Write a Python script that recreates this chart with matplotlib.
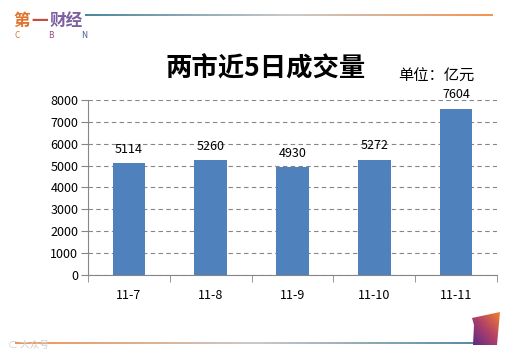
import numpy as np
import matplotlib.pyplot as plt
from matplotlib.collections import LineCollection
from matplotlib.colors import LinearSegmentedColormap
from matplotlib.patches import Polygon

plt.rcParams['font.family'] = ['Noto Sans CJK SC', 'DejaVu Sans']

dates = ["11-7", "11-8", "11-9", "11-10", "11-11"]
volumes = [5114, 5260, 4930, 5272, 7604]
yticks = [0, 1000, 2000, 3000, 4000, 5000, 6000, 7000, 8000]

bar_color = "#4f81bd"
grey = "#868686"

fig = plt.figure(figsize=(5.1, 3.53), dpi=100)

# decorations layer (pixel coords)
deco = fig.add_axes([0, 0, 1, 1])
deco.set_xlim(0, 510)
deco.set_ylim(353, 0)
deco.axis("off")

def grad_line(x0, x1, y, cmap, lw=1.2):
    xs = np.linspace(x0, x1, 200)
    pts = np.array([xs, np.full_like(xs, y)]).T.reshape(-1, 1, 2)
    segs = np.concatenate([pts[:-1], pts[1:]], axis=1)
    lc = LineCollection(segs, cmap=cmap, linewidth=lw)
    lc.set_array(np.linspace(0, 1, len(segs)))
    deco.add_collection(lc)

top_cmap = LinearSegmentedColormap.from_list("top", ["#2a6e8c", "#bfbfbf", "#f08030"])
bot_cmap = LinearSegmentedColormap.from_list("bot", ["#f08030", "#bfbfbf", "#2a6e8c"])
grad_line(85, 493, 15, top_cmap)
grad_line(15, 497, 343, bot_cmap)

# logo
deco.text(13, 21, "第", color="#e0742c", fontsize=12, fontweight="bold", va="center", ha="left")
deco.text(31, 21, "一", color="#c0503c", fontsize=12, fontweight="bold", va="center", ha="left")
deco.text(50, 21, "财经", color="#7b5f9e", fontsize=12, fontweight="bold", va="center", ha="left")
for xc, ch, c in [(17, "C", "#e0742c"), (51, "B", "#9a4f7e"), (84, "N", "#3a5f8e")]:
    deco.text(xc, 35, ch, color=c, fontsize=6, va="center", ha="center")

# bottom-right emblem
poly = Polygon([[472, 318], [500, 312], [497, 345], [473, 345], [474, 325]],
               closed=True, facecolor="none", edgecolor="none")
deco.add_patch(poly)
gx = np.linspace(0, 1, 50)
grad = np.outer(np.linspace(1, 0, 50), np.ones(50)) * 0.5 + np.outer(np.ones(50), gx) * 0.5
emb_cmap = LinearSegmentedColormap.from_list("emb", ["#5b2a86", "#b0406a", "#f0802a"])
im = deco.imshow(grad, extent=(472, 500, 345, 312), cmap=emb_cmap, aspect="auto", zorder=2)
im.set_clip_path(poly)
deco.set_xlim(0, 510)
deco.set_ylim(353, 0)

deco.text(8, 345, "⊂ 大众号", color="#d0d0d0", fontsize=7, va="center", ha="left")

# titles
fig.text(0.52, 0.805, "两市近5日成交量", fontsize=19, fontweight="bold", ha="center", va="center")
fig.text(0.855, 0.785, "单位：亿元", fontsize=11, ha="center", va="center")

# chart
ax = fig.add_axes([0.1725, 0.221, 0.802, 0.496])
x = np.arange(len(dates))
bars = ax.bar(x, volumes, width=0.4, color=bar_color, zorder=3)
for xi, v in zip(x, volumes):
    ax.text(xi, v + 330, str(v), ha="center", va="bottom", fontsize=9)

ax.set_xlim(-0.5, len(dates) - 0.5)
ax.set_ylim(0, 8000)
ax.set_yticks(yticks)
ax.set_yticklabels([str(t) for t in yticks], fontsize=9)
ax.yaxis.grid(True, linestyle=(0, (4, 3)), color=grey, linewidth=0.8, zorder=0)
ax.set_xticks(x)
ax.set_xticklabels(dates, fontsize=9)
ax.tick_params(axis="x", length=0, pad=10)
ax.set_xticks(np.arange(-0.5, len(dates)), minor=True)
ax.tick_params(axis="x", which="minor", length=5, color=grey, direction="out")
ax.tick_params(axis="y", length=5, color=grey, direction="out", pad=2)
for s in ["top", "right"]:
    ax.spines[s].set_visible(False)
for s in ["left", "bottom"]:
    ax.spines[s].set_color(grey)

fig.savefig("out.png", dpi=100)
